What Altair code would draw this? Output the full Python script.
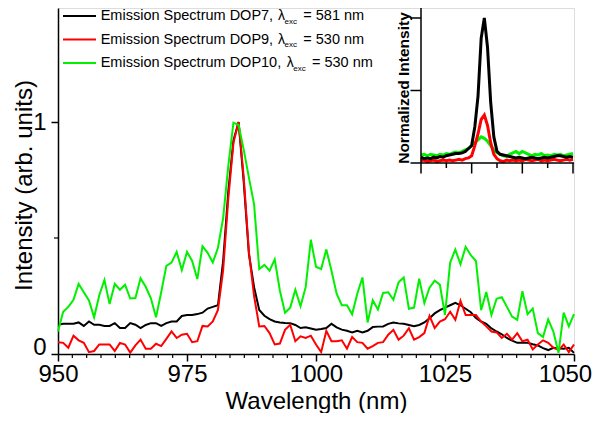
import altair as alt
import pandas as pd

# ---------------- data ----------------
wavelength = list(range(950, 1051))

dop7 = [0.126, 0.13, 0.13, 0.13, 0.136, 0.121, 0.14, 0.126, 0.126, 0.121,
        0.121, 0.133, 0.112, 0.112, 0.133, 0.126, 0.112, 0.125, 0.133, 0.133,
        0.121, 0.133, 0.14, 0.14, 0.164, 0.168, 0.168, 0.172, 0.178, 0.196,
        0.203, 0.21, 0.40, 0.70, 0.92, 1.0, 0.74, 0.43, 0.288, 0.19,
        0.165, 0.15, 0.14, 0.136, 0.134, 0.133, 0.125, 0.112, 0.115, 0.11,
        0.105, 0.108, 0.112, 0.13, 0.115, 0.105, 0.10, 0.093, 0.10, 0.093,
        0.10, 0.116, 0.118, 0.119, 0.13, 0.136, 0.132, 0.13, 0.125, 0.12,
        0.125, 0.136, 0.154, 0.175, 0.189, 0.20, 0.21, 0.22, 0.21, 0.195,
        0.18, 0.155, 0.14, 0.13, 0.11, 0.097, 0.085, 0.069, 0.058, 0.048,
        0.048, 0.048, 0.042, 0.037, 0.025, 0.017, 0.027, 0.025, 0.023, 0.027,
        0.005]

dop9 = [0.051, 0.048, 0.027, 0.079, 0.059, 0.048, 0.008, 0.013, 0.041, 0.041,
        0.041, 0.013, 0.048, 0.041, 0.006, 0.037, 0.062, 0.023, 0.023, 0.044,
        0.034, 0.065, 0.097, 0.069, 0.083, 0.087, 0.051, 0.055, 0.121, 0.119,
        0.14, 0.19, 0.36, 0.67, 0.91, 1.0, 0.76, 0.44, 0.25, 0.119,
        0.121, 0.09, 0.041, 0.045, 0.104, 0.126, 0.055, 0.076, 0.069, 0.079,
        0.041, 0.008, 0.10, 0.055, 0.055, 0.059, 0.023, 0.073, 0.051, 0.048,
        0.023, 0.034, 0.048, 0.051, 0.083, 0.104, 0.062, 0.079, 0.111, 0.062,
        0.073, 0.09, 0.164, 0.112, 0.14, 0.15, 0.182, 0.147, 0.229, 0.168,
        0.168, 0.168, 0.14, 0.119, 0.097, 0.093, 0.069, 0.087, 0.062, 0.09,
        0.055, 0.062, 0.02, 0.041, 0.059, 0.048, 0.027, 0.017, 0.041, 0.008,
        0.041]

dop10 = [0.097, 0.182, 0.203, 0.234, 0.302, 0.266, 0.231, 0.158, 0.253, 0.319,
         0.215, 0.302, 0.277, 0.298, 0.239, 0.241, 0.326, 0.29, 0.24, 0.158,
         0.266, 0.38, 0.394, 0.44, 0.362, 0.44, 0.401, 0.323, 0.465, 0.436,
         0.394, 0.458, 0.585, 0.81, 0.997, 0.987, 0.88, 0.76, 0.645, 0.366,
         0.384, 0.359, 0.408, 0.274, 0.178, 0.20, 0.277, 0.206, 0.288, 0.493,
         0.376, 0.366, 0.451, 0.359, 0.26, 0.21, 0.21, 0.171, 0.26, 0.33,
         0.136, 0.232, 0.192, 0.263, 0.266, 0.234, 0.309, 0.33, 0.195, 0.20,
         0.325, 0.22, 0.286, 0.316, 0.299, 0.168, 0.394, 0.45, 0.387, 0.462,
         0.426, 0.401, 0.189, 0.267, 0.168, 0.238, 0.245, 0.203, 0.161, 0.147,
         0.271, 0.172, 0.196, 0.09, 0.073, 0.149, 0.097, 0.005, 0.178, 0.119,
         0.172]

# inset: normalized intensities on an unlabeled axis (0..6 tick units)
inset_pos = [i * 0.125 for i in range(49)]
inset_dop7 = [0.04, 0.03, 0.035, 0.03, 0.04, 0.035, 0.045, 0.04, 0.05, 0.055,
              0.06, 0.065, 0.065, 0.07, 0.08, 0.10, 0.12, 0.25, 0.46, 0.86,
              1.0, 0.80, 0.42, 0.18, 0.08, 0.06, 0.055, 0.05, 0.045, 0.04,
              0.035, 0.04, 0.035, 0.03, 0.035, 0.04, 0.035, 0.03, 0.035, 0.04,
              0.035, 0.04, 0.045, 0.05, 0.05, 0.045, 0.04, 0.045, 0.04]
inset_dop9 = [0.015, 0.02, 0.01, 0.015, 0.02, 0.01, 0.015, 0.02, 0.015, 0.02,
              0.015, 0.02, 0.025, 0.02, 0.03, 0.035, 0.05, 0.12, 0.20, 0.30,
              0.33, 0.26, 0.14, 0.06, 0.03, 0.015, 0.01, 0.02, 0.015, 0.02,
              0.015, 0.02, 0.015, 0.025, 0.02, 0.015, 0.02, 0.025, 0.015, 0.02,
              0.015, 0.02, 0.025, 0.02, 0.015, 0.02, 0.025, 0.02, 0.025]
inset_dop10 = [0.055, 0.06, 0.05, 0.06, 0.055, 0.05, 0.06, 0.055, 0.065, 0.06,
               0.07, 0.075, 0.07, 0.08, 0.09, 0.10, 0.12, 0.14, 0.16, 0.18,
               0.17, 0.15, 0.12, 0.09, 0.07, 0.06, 0.05, 0.045, 0.06, 0.07,
               0.08, 0.065, 0.08, 0.07, 0.06, 0.05, 0.06, 0.055, 0.065, 0.05,
               0.055, 0.05, 0.06, 0.055, 0.06, 0.05, 0.055, 0.06, 0.065]

series_names = ["DOP7", "DOP9", "DOP10"]
series_colors = ["#000000", "#ff0000", "#00f000"]
series_exc = ["581", "530", "530"]

x_major = [950, 975, 1000, 1025, 1050]
x_minor = [950 + k * 25 / 9 for k in range(37) if k % 9]
y_major = [0, 1]
y_minor = [0.5]
inset_y_ticks = [0, 0.5, 1]
inset_x_major = [0, 2, 4, 6]
inset_x_minor = [1, 3, 5]

# ---------------- layout ----------------
W, H = 516, 346
PAD_L, PAD_R, PAD_B = 50, 18, 59
FONT = "Liberation Sans"
PX_PER_UNIT = 232

xs = alt.Scale(domain=[950, 1050], nice=False, zero=False)
ys = alt.Scale(domain=[0, H / PX_PER_UNIT], nice=False)

xaxis = alt.Axis(values=x_major, format="d", title="Wavelength (nm)",
                 tickSize=7, tickWidth=1.5, tickColor="black",
                 domainWidth=1.5, domainColor="black", grid=False,
                 labelFont=FONT, labelFontSize=24, labelColor="black",
                 labelPadding=1, labelFlush=False,
                 labelOffset={"condition": {"test": "datum.value === 1050", "value": -9},
                              "value": 0},
                 titleFont=FONT, titleFontSize=24, titleFontWeight="normal",
                 titleColor="black", titleY=54, titleBaseline="alphabetic")
yaxis = alt.Axis(values=y_major, format="d", title="Intensity (arb. units)",
                 tickSize=7, tickWidth=1.5, tickColor="black",
                 domainWidth=1.5, domainColor="black", grid=False,
                 labelFont=FONT, labelFontSize=24, labelColor="black",
                 labelPadding=5, labelFlush=False,
                 labelOffset={"condition": {"test": "datum.value === 0", "value": -6.5},
                              "value": 0},
                 titleFont=FONT, titleFontSize=24, titleFontWeight="normal",
                 titleColor="black", titleX=-34, titleY=177,
                 titleBaseline="middle", titleAlign="center")


def main_line(vals, color):
    df = pd.DataFrame({"wl": wavelength, "v": vals})
    return alt.Chart(df).mark_line(color=color, strokeWidth=2).encode(
        x=alt.X("wl:Q", scale=xs, axis=xaxis),
        y=alt.Y("v:Q", scale=ys, axis=yaxis),
    )


main_lines = [main_line(v, c) for v, c in zip([dop7, dop9, dop10], series_colors)]

x_minor_ticks = alt.Chart(pd.DataFrame({"wl": x_minor})).mark_rule(
    color="black", strokeWidth=1.2).encode(
    x=alt.X("wl:Q", scale=xs, axis=xaxis),
    y=alt.value(H), y2=alt.value(H + 4))
y_minor_ticks = alt.Chart(pd.DataFrame({"v": y_minor})).mark_rule(
    color="black", strokeWidth=1.2).encode(
    y=alt.Y("v:Q", scale=ys, axis=yaxis),
    x=alt.value(-4), x2=alt.value(0))

# legend (manual, to allow the subscript)
one = pd.DataFrame({"a": [0]})
legend_layers = []
row_y = [8, 31.5, 55]
lam_x = [220, 220, 228.7]
for name, color, exc, yy, lx in zip(series_names, series_colors, series_exc, row_y, lam_x):
    legend_layers.append(alt.Chart(one).mark_rule(color=color, strokeWidth=2).encode(
        x=alt.value(5), x2=alt.value(38), y=alt.value(yy)))
    legend_layers.append(alt.Chart(one).mark_text(
        text=f"Emission Spectrum {name},", align="left", baseline="middle",
        font=FONT, fontSize=14.5, color="black").encode(
        x=alt.value(42.7), y=alt.value(yy)))
    legend_layers.append(alt.Chart(one).mark_text(
        text="λ", align="left", baseline="middle",
        font=FONT, fontSize=14, color="black").encode(
        x=alt.value(lx), y=alt.value(yy)))
    legend_layers.append(alt.Chart(one).mark_text(
        text="exc", align="left", baseline="middle",
        font=FONT, fontSize=8, color="black").encode(
        x=alt.value(lx + 6.5), y=alt.value(yy + 5.5)))
    legend_layers.append(alt.Chart(one).mark_text(
        text=f"= {exc} nm", align="left", baseline="middle",
        font=FONT, fontSize=14.5, color="black").encode(
        x=alt.value(lx + 25.3), y=alt.value(yy)))

main = alt.layer(*main_lines, x_minor_ticks, y_minor_ticks, *legend_layers)

# ---------------- inset ----------------
IX0, IX1 = 363, 515
IY0, IY1 = 155, 10
ixs = alt.Scale(domain=[0, 6], range=[IX0, IX1], nice=False, zero=False)
iys = alt.Scale(domain=[0, 1], range=[IY0, IY1], nice=False, zero=False)


def inset_line(vals, color):
    df = pd.DataFrame({"p": inset_pos, "v": vals})
    return alt.Chart(df).mark_line(color=color, strokeWidth=3).encode(
        x=alt.X("p:Q", scale=ixs, axis=None),
        y=alt.Y("v:Q", scale=iys, axis=None),
    )


inset_lines = [inset_line(v, c) for v, c in
               zip([inset_dop10, inset_dop9, inset_dop7], series_colors[::-1])]

inset_left = alt.Chart(one).mark_rule(color="black", strokeWidth=1.5).encode(
    x=alt.value(IX0), y=alt.value(0), y2=alt.value(IY0))
inset_bottom = alt.Chart(one).mark_rule(color="black", strokeWidth=1.5).encode(
    x=alt.value(IX0), x2=alt.value(W), y=alt.value(IY0))
inset_yt = alt.Chart(pd.DataFrame({"v": inset_y_ticks})).mark_rule(
    color="black", strokeWidth=1.5).encode(
    y=alt.Y("v:Q", scale=iys, axis=None), x=alt.value(IX0 - 10.5), x2=alt.value(IX0))
inset_xt_major = alt.Chart(pd.DataFrame({"p": inset_x_major})).mark_rule(
    color="black", strokeWidth=1.5).encode(
    x=alt.X("p:Q", scale=ixs, axis=None), y=alt.value(IY0), y2=alt.value(IY0 + 10.5))
inset_xt_minor = alt.Chart(pd.DataFrame({"p": inset_x_minor})).mark_rule(
    color="black", strokeWidth=1.5).encode(
    x=alt.X("p:Q", scale=ixs, axis=None), y=alt.value(IY0), y2=alt.value(IY0 + 5))
inset_title = alt.Chart(one).mark_text(
    text="Normalized Intensity", angle=270, align="center", baseline="middle",
    font=FONT, fontSize=15.5, fontWeight="bold", color="black").encode(
    x=alt.value(346), y=alt.value(80))

inset = alt.layer(*inset_lines, inset_left, inset_bottom, inset_yt,
                  inset_xt_major, inset_xt_minor, inset_title)

chart = alt.layer(main, inset).resolve_scale(
    x="independent", y="independent"
).properties(
    width=W, height=H,
    autosize=alt.AutoSizeParams(type="none"),
    padding={"left": PAD_L, "top": 0, "right": PAD_R, "bottom": PAD_B},
).configure_view(
    stroke="black", strokeWidth=1.5
).configure(background="white")

chart.save("out.html", embed_options={"renderer": "svg", "actions": False})
